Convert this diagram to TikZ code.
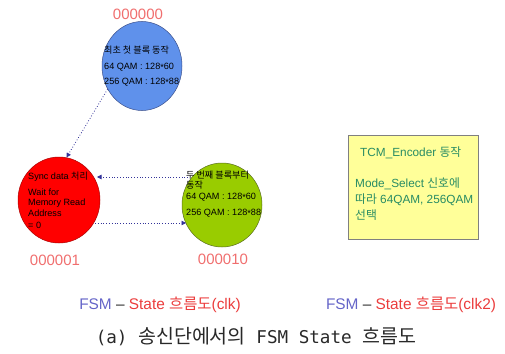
\documentclass[tikz,border=0pt]{standalone}
\usepackage{fontspec}
\setmainfont{Liberation Sans}
\newfontfamily\krf{Noto Sans CJK KR}
\newfontfamily\capmono{DejaVu Sans Mono}
\usetikzlibrary{shapes.geometric,arrows.meta}
\definecolor{blueF}{RGB}{95,145,235}
\definecolor{blueD}{RGB}{60,80,140}
\definecolor{redF}{RGB}{255,0,0}
\definecolor{redD}{RGB}{170,0,0}
\definecolor{greenF}{RGB}{153,204,0}
\definecolor{greenD}{RGB}{90,110,30}
\definecolor{salmon}{RGB}{240,110,110}
\definecolor{arrC}{RGB}{51,51,153}
\definecolor{yelF}{RGB}{255,255,153}
\definecolor{yelD}{RGB}{128,128,128}
\definecolor{teal}{RGB}{40,140,100}
\definecolor{fsmB}{RGB}{100,100,200}
\definecolor{fsmR}{RGB}{235,60,60}
\definecolor{capC}{RGB}{40,40,40}
\newcommand{\midast}{\raisebox{-0.3ex}{*}}
\tikzset{
  state/.style={ellipse, draw, line width=0.5pt, inner sep=0pt},
  txt/.style={anchor=west, inner sep=0pt, font=\fontsize{9.1}{10}\selectfont},
  ytxt/.style={anchor=west, inner sep=0pt, text=teal, font=\fontsize{11.8}{13}\selectfont},
  code/.style={inner sep=0pt, text=salmon, font=\fontsize{15}{17}\selectfont},
  arr/.style={draw=arrC, dotted, line width=0.8pt, -{Triangle[length=4.5pt,width=4.5pt]}},
  fsm/.style={inner sep=0pt, font=\fontsize{15.4}{17}\selectfont},
}
\begin{document}
\begin{tikzpicture}[x=1pt,y=-1pt]
\useasboundingbox (0,0) rectangle (505,353);
% states
\node[state, fill=blueF, draw=blueD, minimum width=80pt, minimum height=89pt] (s0) at (142,66) {};
\node[state, fill=redF, draw=redD, minimum width=82pt, minimum height=86pt] (s1) at (59,200) {};
\node[state, fill=greenF, draw=greenD, minimum width=80pt, minimum height=84pt] (s2) at (222,205) {};
% codes
\node[code] (c0) at (138,14) {000000};
\node[code] (c1) at (55,260) {000001};
\node[code] (c2) at (223,259) {000010};
% blue text
\node[txt] (b1) at (104,50) {\krf 최초 첫 블록 동작};
\node[txt] (b2) at (104,67) {64 QAM : 128\midast60};
\node[txt] (b3) at (104,82) {256 QAM : 128\midast88};
% red text
\node[txt] (r1) at (28,177) {Sync data {\krf 처리}};
\node[txt] (r2) at (28,192) {Wait for};
\node[txt] (r3) at (28,203) {Memory Read};
\node[txt] (r4) at (28,213) {Address};
\node[txt] (r5) at (28,225) {= 0};
% green text
\node[txt] (g1) at (186,175) {\krf 두 번째 블록부터};
\node[txt] (g2) at (186,185) {\krf 동작};
\node[txt] (g3) at (186,197) {64 QAM : 128\midast60};
\node[txt] (g4) at (186,213) {256 QAM : 128\midast88};
% connectors
\coordinate (u1) at (188,177);
\coordinate (u2) at (97,177);
\coordinate (l1) at (95,223);
\coordinate (l2) at (186,223);
\draw[arr] (s0.214) -- (s1.80);
\draw[arr] (u1) -- (u2);
\draw[arr] (l1) -- (l2);
% yellow box
\node[draw=yelD, fill=yelF, line width=0.6pt, minimum width=130pt, minimum height=104pt, inner sep=0pt] (box) at (413,187) {};
\node[ytxt] (y1) at (360,153) {TCM\_Encoder {\krf 동작}};
\node[ytxt] (y2) at (355,184) {Mode\_Select {\krf 신호에}};
\node[ytxt] (y3) at (355,200) {{\krf 따라} 64QAM, 256QAM};
\node[ytxt] (y4) at (355,215) {\krf 선택};
% bottom labels
\node[fsm] (f1) at (160,305) {\textcolor{fsmB}{FSM} \textcolor{capC}{–} \textcolor{fsmR}{State {\krf 흐름도}(clk)}};
\node[fsm] (f2) at (411,305) {\textcolor{fsmB}{FSM} \textcolor{capC}{–} \textcolor{fsmR}{State {\krf 흐름도}(clk2)}};
% caption
\node[inner sep=0pt, text=capC, font=\fontsize{19.5}{22}\selectfont] (cap) at (256,337) {{\capmono\fontsize{17.6}{22}\selectfont (a) }{\krf 송신단에서의}{\capmono\fontsize{17.6}{22}\selectfont{} FSM State }{\krf 흐름도}};
\end{tikzpicture}
\end{document}
